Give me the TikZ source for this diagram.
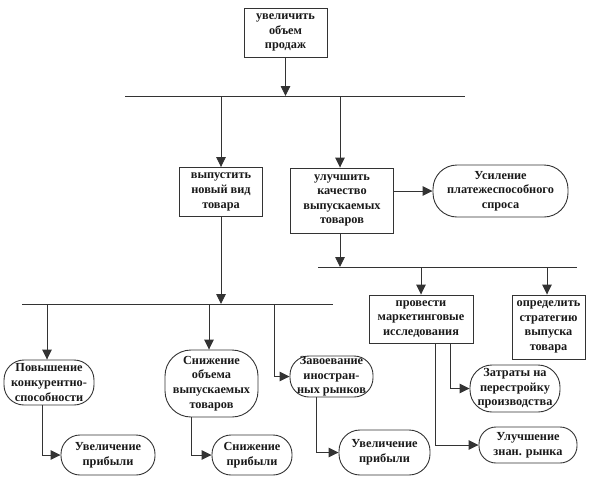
\documentclass[tikz,border=0pt]{standalone}
\usepackage{fontspec}
\setmainfont{Liberation Serif}
\usetikzlibrary{arrows.meta,calc}
\begin{document}
\begin{tikzpicture}[x=1pt,y=-1pt,
  every node/.style={font=\bfseries\fontsize{12.3}{14.6}\selectfont, text=black!90, align=center, inner sep=0pt},
  rbox/.style={draw=black!80, line width=0.9pt, rectangle},
  oval/.style={draw=black!80, line width=0.9pt, rectangle, rounded corners=#1},
  oval/.default=18pt,
  conn/.style={draw=black!80, line width=0.9pt},
  arr/.style={conn, -{Triangle[length=10pt,width=9.5pt]}}]
\useasboundingbox (0,0) rectangle (591,483);

% nodes
\node[rbox, minimum width=83pt, minimum height=49pt] (top) at (285.5,32.5) {увеличить\\объем\\продаж};
\node[rbox, minimum width=83pt, minimum height=49pt] (vyp) at (221,192) {выпустить\\новый вид\\товара};
\node[rbox, minimum width=103pt, minimum height=65pt] (ulu) at (342,200.5) {улучшить\\качество\\выпускаемых\\товаров};
\node[oval=24pt, minimum width=135pt, minimum height=52pt] (usil) at (500.5,191) {Усиление\\платежеспособного\\спроса};
\node[rbox, minimum width=104pt, minimum height=48pt] (prov) at (421,319) {провести\\маркетинговые\\исследования};
\node[rbox, minimum width=73pt, minimum height=64pt] (opr) at (548.5,327) {определить\\стратегию\\выпуска\\товара};

\node[oval=20pt, minimum width=90pt, minimum height=45pt] (pov) at (49,382.5) {Повышение\\конкурентно-\\способности};
\node[oval=26pt, minimum width=93pt, minimum height=67pt] (snz) at (211.5,383.5) {Снижение\\объема\\выпускаемых\\товаров};
\node[oval=19pt, minimum width=83pt, minimum height=41pt] (zav) at (331.5,376.5) {Завоевание\\иностран-\\ных рынков};
\node[oval=19pt, minimum width=94pt, minimum height=40pt] (uv1) at (108,455) {Увеличение\\прибыли};
\node[oval=19pt, minimum width=80pt, minimum height=40pt] (snp) at (252,455) {Снижение\\прибыли};
\node[oval=21pt, minimum width=91pt, minimum height=45pt] (uv2) at (384.5,452.5) {Увеличение\\прибыли};
\node[oval=22pt, minimum width=90pt, minimum height=47pt] (zat) at (515,388.5) {Затраты на\\перестройку\\производства};
\node[oval=17pt, minimum width=98pt, minimum height=36pt] (ulr) at (528,445) {Улучшение\\знан. рынка};

% buses
\coordinate (b1L) at (125,96);  \coordinate (b1R) at (465,96);
\coordinate (b2L) at (22,304);  \coordinate (b2R) at (333,304);
\coordinate (b3L) at (318,267); \coordinate (b3R) at (577,267);
\draw[conn] (b1L) -- (b1R);
\draw[conn] (b2L) -- (b2R);
\draw[conn] (b3L) -- (b3R);

% drop points on buses
\coordinate (d1) at (47,304);
\coordinate (d2) at (209,304);
\coordinate (d3) at (274,304);

% connectors
\draw[arr] (top.south) -- (top.south |- b1L);
\draw[arr] (vyp.north |- b1L) -- (vyp.north);
\draw[arr] ($(ulu.north |- b1L)+(-2,0)$) -- ($(ulu.north)+(-2,0)$);
\draw[arr] (usil.west -| ulu.east) -- (usil.west);
\draw[arr] ($(ulu.south)+(-2,0)$) -- ($(ulu.south |- b3L)+(-2,0)$);
\draw[arr] (prov.north |- b3L) -- (prov.north);
\draw[arr] ($(opr.north |- b3L)+(-1.5,0)$) -- ($(opr.north)+(-1.5,0)$);
\draw[arr] (vyp.south) -- (vyp.south |- b2L);
\draw[arr] (d1) -- (d1 |- pov.north);
\draw[arr] (d2) -- (d2 |- snz.north);
\draw[arr] (d3) |- (zav.west);
\draw[arr] ($(pov.south)+(-7,0)$) |- (uv1.west);
\draw[arr] ($(snz.south)+(-20.5,0)$) |- (snp.west);
\draw[arr] ($(zav.south)+(-15.5,0)$) |- (uv2.west);
\draw[arr] ($(prov.south)+(29,0)$) |- (zat.west);
\draw[arr] ($(prov.south)+(14,0)$) |- (ulr.west);
\end{tikzpicture}
\end{document}
